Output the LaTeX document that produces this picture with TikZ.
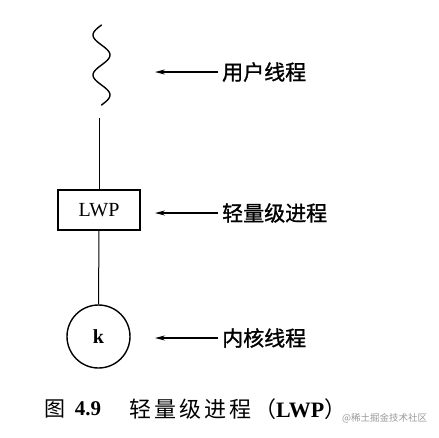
\documentclass[tikz,border=0pt]{standalone}
\usepackage{fontspec}
\setmainfont{Liberation Serif}
\newfontfamily\cjk{Noto Sans CJK SC}
\newfontfamily\cjklbl[FakeBold=1.2]{Noto Sans CJK SC}
\newfontfamily\cjkcap[LetterSpace=14]{Noto Sans CJK SC}
\usetikzlibrary{arrows.meta}
\begin{document}
\begin{tikzpicture}[x=1pt,y=-1pt,
  lbl/.style={anchor=west,inner sep=4pt,font=\cjklbl\fontsize{21}{24}\selectfont},
  ptr/.style={line width=1.1pt,-{Stealth[length=10pt,width=5pt]}},
  stem/.style={line width=1pt}]
\useasboundingbox (0,0) rectangle (439,437);
% wave (user thread)
\draw[line width=1.4pt,line cap=round] plot[domain=0:80,samples=81,smooth] ({101.5-8.5*sin(9*\x)},{25+\x});
% structure
\coordinate (ltop) at (99,118);
\node[draw,line width=1.4pt,minimum width=82pt,minimum height=40pt,inner sep=0pt,font=\fontsize{20}{24}\selectfont] (lwp) at (99,210) {LWP};
\node[draw,circle,line width=1.4pt,minimum size=63pt,inner sep=0pt,font=\bfseries\fontsize{20}{24}\selectfont] (kern) at (98.5,336.5) {k};
\draw[stem] (ltop) -- (lwp.north);
\draw[stem] (lwp.south) -- (kern.north);
% labels
\node[lbl] (l1) at (218,72) {用户线程};
\node[lbl] (l2) at (218,213) {轻量级进程};
\node[lbl] (l3) at (218,338) {内核线程};
\coordinate (t1) at (155,72);
\coordinate (t2) at (155,213);
\coordinate (t3) at (155,338);
\draw[ptr] (l1.west) -- (t1);
\draw[ptr] (l2.west) -- (t2);
\draw[ptr] (l3.west) -- (t3);
% caption
\node[inner sep=0pt,font=\cjk\fontsize{21}{24}\selectfont] (c1) at (55,409) {图};
\node[inner sep=0pt,font=\bfseries\fontsize{21}{24}\selectfont] (c2) at (88,409) {4.9};
\node[anchor=west,inner sep=0pt,font=\cjkcap\fontsize{22}{24}\selectfont] (c3) at (129,409) {轻量级进程};
\node[anchor=west,inner sep=0pt,font=\fontsize{22}{24}\selectfont] (c4) at (254,409) {{\cjk （}\textbf{LWP}{\cjk ）}};
\node[anchor=west,inner sep=0pt,text=black!40,font=\cjk\fontsize{9.5}{11}\selectfont] (wm) at (342,418) {@稀土掘金技术社区};
\end{tikzpicture}
\end{document}
